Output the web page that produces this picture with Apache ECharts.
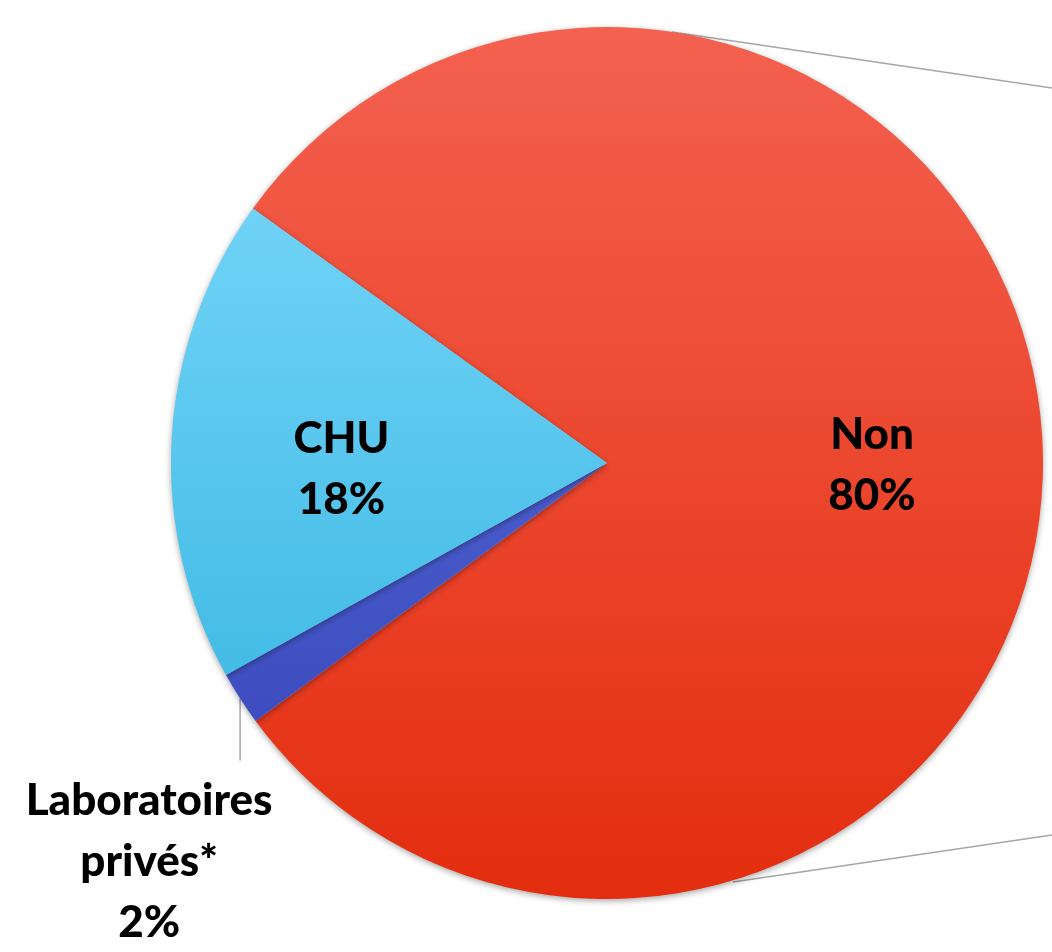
<!DOCTYPE html>
<html>
<head>
<meta charset="utf-8">
<script src="https://cdn.jsdelivr.net/npm/echarts@6/dist/echarts.min.js"></script>
<style>
  html, body { margin: 0; padding: 0; background: #fff; }
  #chart { width: 1052px; height: 952px; }
</style>
</head>
<body>
<div id="chart"></div>
<script>
const categories = ['Non', 'Laboratoires\nprivés*', 'CHU'];
const values = [80, 2, 18];
const sliceColors = [
    ['#f46150', '#e32d0e'],
    ['#4a5ccc', '#3d4dbf'],
    ['#70d2f6', '#43bce6'],
];
const labelOffsets = [[44, 3], [0, 0], [-45, 19]];

const grad = (c) => new echarts.graphic.LinearGradient(0, 0, 0, 1, [
    { offset: 0, color: c[0] },
    { offset: 1, color: c[1] },
]);

const chart = echarts.init(document.getElementById('chart'));

chart.setOption({
    backgroundColor: '#ffffff',
    animation: false,
    graphic: [
        { type: 'line', shape: { x1: 672, y1: 32, x2: 1052, y2: 88 }, style: { stroke: '#a6a6a6', lineWidth: 1.5 }, z: -1 },
        { type: 'line', shape: { x1: 733, y1: 882, x2: 1052, y2: 835 }, style: { stroke: '#a6a6a6', lineWidth: 1.5 }, z: -1 },
    ],
    series: [{
        type: 'pie',
        center: [607, 463],
        radius: [0, 436],
        startAngle: 144.3,
        clockwise: true,
        silent: true,
        itemStyle: {
            shadowBlur: 6,
            shadowColor: 'rgba(0,0,0,0.35)',
            shadowOffsetY: 2,
        },
        label: {
            fontFamily: 'Lato, "Open Sans", sans-serif',
            fontWeight: 900,
            fontSize: 44,
            lineHeight: 61,
            color: '#000',
            align: 'center',
            overflow: 'none',
        },
        labelLine: { lineStyle: { color: '#a6a6a6', width: 1.5 } },
        labelLayout: (params) => {
            if (params.dataIndex !== 1) return {};
            const p = params.labelLinePoints[0];
            const q = [p[0], p[1] + 62];
            return {
                x: p[0] - 91,
                y: p[1] + 163,
                align: 'center',
                verticalAlign: 'middle',
                labelLinePoints: [p, q, q],
            };
        },
        data: categories.map((name, i) => ({
            name,
            value: values[i],
            itemStyle: { color: grad(sliceColors[i]) },
            label: i === 1
                ? { show: true, position: 'outside', formatter: '{b}\n{d}%', width: 320, overflow: 'none' }
                : { show: true, position: 'inside', formatter: '{b}\n{d}%', offset: labelOffsets[i] },
            labelLine: { show: i === 1 },
        })),
    }],
});
</script>
</body>
</html>
